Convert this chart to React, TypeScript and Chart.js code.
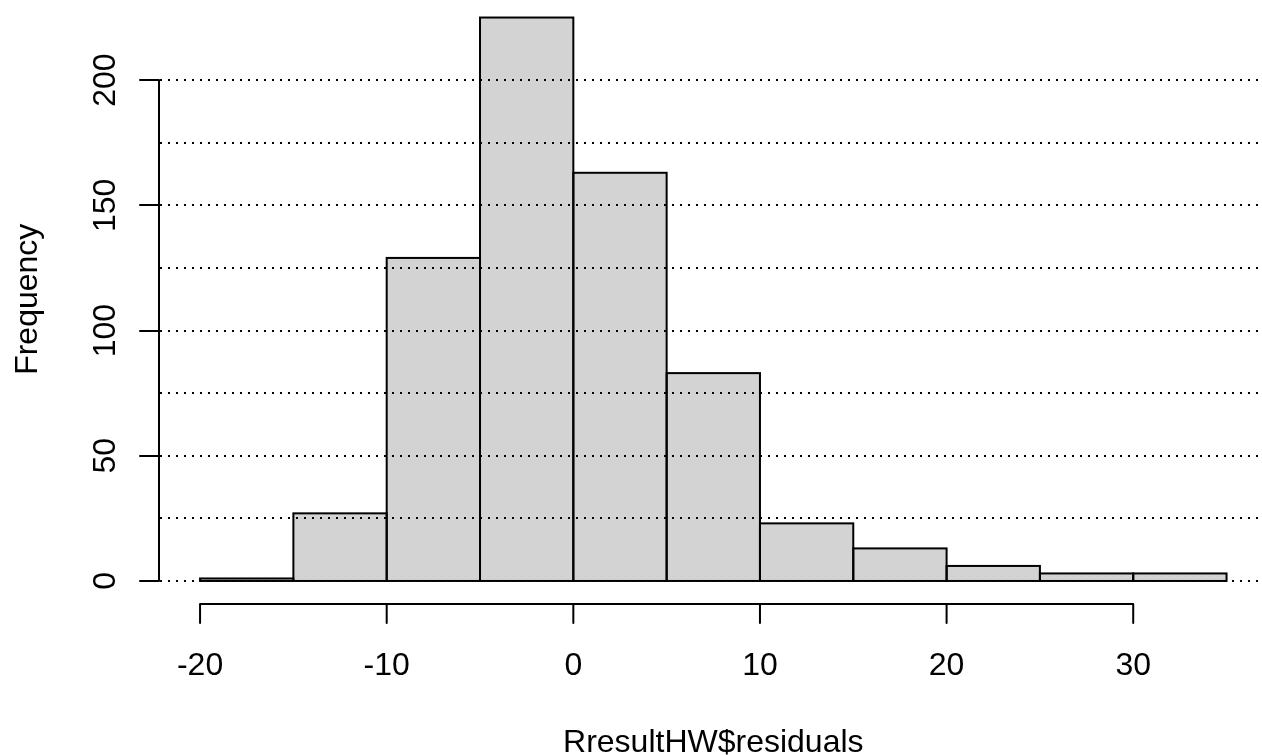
import React, { useEffect, useRef } from "react";
import { Chart, registerables } from "chart.js";

Chart.register(...registerables);

// Histogram bins (width 5) and their counts
const binEdges = [-20, -15, -10, -5, 0, 5, 10, 15, 20, 25, 30, 35];
const frequencies = [1, 27, 129, 225, 163, 83, 23, 13, 6, 3, 3];

// Axis labelling
const xTickValues = [-20, -10, 0, 10, 20, 30];
const yTickValues = [0, 50, 100, 150, 200];
const gridValues = [0, 25, 50, 75, 100, 125, 150, 175, 200];
const xTitle = "RresultHW$residuals";
const yTitle = "Frequency";

const W = 1262;
const H = 755;
const FONT = '32px "Liberation Sans", Arial, sans-serif';
const LINE = 2;
const TICK_LEN = 19;

// Base-graphics style frame: bar outlines, dotted reference lines, axes and labels
const histogramFrame = {
  id: "histogramFrame",
  afterDatasetsDraw(chart: any) {
    const { ctx, chartArea } = chart;
    const xs = chart.scales.x;
    const ys = chart.scales.y;
    ctx.save();
    ctx.strokeStyle = "#000";
    ctx.fillStyle = "#000";
    ctx.lineWidth = LINE;

    // bar outlines, stroked on the bar edges
    chart.getDatasetMeta(0).data.forEach((el: any) => {
      const { x, y, base, width } = el.getProps(["x", "y", "base", "width"], true);
      ctx.strokeRect(x - width / 2, y, width, base - y);
    });

    // dotted horizontal reference lines
    ctx.setLineDash([2, 6]);
    ctx.lineCap = "butt";
    gridValues.forEach((v) => {
      const py = Math.round(ys.getPixelForValue(v));
      ctx.beginPath();
      ctx.moveTo(chartArea.left + 1, py);
      ctx.lineTo(chartArea.right, py);
      ctx.stroke();
    });
    ctx.setLineDash([]);
    ctx.lineCap = "round";

    // y axis
    const ax = Math.round(chartArea.left);
    const yTop = ys.getPixelForValue(yTickValues[yTickValues.length - 1]);
    const yBot = ys.getPixelForValue(yTickValues[0]);
    ctx.beginPath();
    ctx.moveTo(ax, yBot);
    ctx.lineTo(ax, yTop);
    yTickValues.forEach((v) => {
      const py = Math.round(ys.getPixelForValue(v));
      ctx.moveTo(ax, py);
      ctx.lineTo(ax - TICK_LEN, py);
    });
    ctx.stroke();

    // x axis
    const ay = Math.round(chartArea.bottom);
    const xL = xs.getPixelForValue(xTickValues[0]);
    const xR = xs.getPixelForValue(xTickValues[xTickValues.length - 1]);
    ctx.beginPath();
    ctx.moveTo(xL, ay);
    ctx.lineTo(xR, ay);
    xTickValues.forEach((v) => {
      const px = xs.getPixelForValue(v);
      ctx.moveTo(px, ay);
      ctx.lineTo(px, ay + TICK_LEN);
    });
    ctx.stroke();

    ctx.font = FONT;
    ctx.textAlign = "center";
    ctx.textBaseline = "alphabetic";

    // x tick labels
    xTickValues.forEach((v) => {
      ctx.fillText(String(v), xs.getPixelForValue(v), ay + 71);
    });

    // y tick labels (rotated)
    yTickValues.forEach((v) => {
      ctx.save();
      ctx.translate(ax - 44, ys.getPixelForValue(v));
      ctx.rotate(-Math.PI / 2);
      ctx.fillText(String(v), 0, 0);
      ctx.restore();
    });

    // axis titles, centred on the binned range
    const midX = (binEdges[0] + binEdges[binEdges.length - 1]) / 2;
    const midY = Math.max(...frequencies) / 2;
    ctx.fillText(xTitle, xs.getPixelForValue(midX), ay + 147.5);
    ctx.save();
    ctx.translate(ax - 122, ys.getPixelForValue(midY));
    ctx.rotate(-Math.PI / 2);
    ctx.fillText(yTitle, 0, 0);
    ctx.restore();

    ctx.restore();
  },
};

export default function App() {
  const ref = useRef<HTMLCanvasElement>(null);

  useEffect(() => {
    document.body.style.margin = "0";
    const canvas = ref.current;
    if (!canvas) return;
    const centers = frequencies.map((_, i) => (binEdges[i] + binEdges[i + 1]) / 2);
    const chart = new Chart(canvas, {
      type: "bar",
      data: {
        datasets: [
          {
            data: centers.map((c, i) => ({ x: c, y: frequencies[i] })),
            backgroundColor: "#D3D3D3",
            borderWidth: 0,
            barPercentage: 1,
            categoryPercentage: 1,
          },
        ],
      },
      options: {
        responsive: false,
        animation: false,
        devicePixelRatio: 1,
        events: [],
        layout: { padding: { left: 159, top: 0, right: 0, bottom: H - 603.5 } },
        plugins: { legend: { display: false }, tooltip: { enabled: false } },
        scales: {
          x: {
            type: "linear",
            display: false,
            min: -22.2,
            max: 36.9,
            offset: false,
            grid: { offset: false },
            ticks: { stepSize: 5, includeBounds: false },
          },
          y: { type: "linear", display: false, min: -9, max: 232 },
        },
      } as any,
      plugins: [histogramFrame],
    });
    return () => chart.destroy();
  }, []);

  return (
    <div style={{ width: W, height: H, background: "#fff" }}>
      <canvas ref={ref} width={W} height={H} style={{ display: "block" }} />
    </div>
  );
}
